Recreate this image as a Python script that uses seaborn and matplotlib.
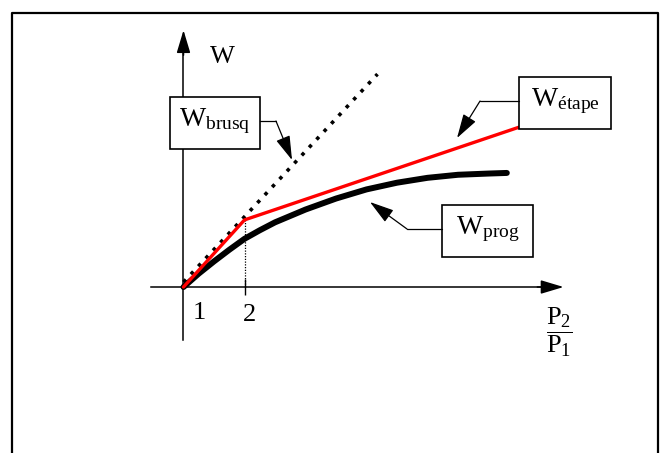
import matplotlib
matplotlib.use("Agg")
import matplotlib.pyplot as plt
import matplotlib.patches as mpatches
import seaborn as sns

# --- data (x = P2/P1, y = W, arbitrary units) ---
p_brusq = [1.0, 4.18]
w_brusq = [0.08, 3.49]

p_etape = [1.0, 2.0, 6.5]
w_etape = [0.0, 1.10, 2.62]

p_prog = [1.0, 1.25, 1.5, 1.75, 2.0, 2.25, 2.5, 3.0, 3.5, 4.0, 4.5, 5.0, 5.5, 6.0, 6.3]
w_prog = [0.00, 0.22, 0.42, 0.61, 0.79, 0.93, 1.06, 1.27, 1.45, 1.60, 1.71, 1.79, 1.84, 1.86, 1.87]

tick_labels = ["1", "2"]

sns.set_theme(style="white")
plt.rcParams["font.family"] = ["Liberation Serif", "DejaVu Serif"]
plt.rcParams["text.color"] = "black"
plt.rcParams["mathtext.fontset"] = "custom"
plt.rcParams["mathtext.rm"] = "Liberation Serif"
plt.rcParams["mathtext.it"] = "Liberation Serif:italic"

fig = plt.figure(figsize=(6.65, 4.53), dpi=100)
ax = fig.add_axes([0, 0, 1, 1])
ax.set_xlim(-2.008, 8.893)
ax.set_ylim(-2.721, 4.705)
ax.set_facecolor("white")

# axes through the origin, drawn with the spines
for side in ["top", "right"]:
    ax.spines[side].set_visible(False)
ax.spines["bottom"].set_position(("data", 0))
ax.spines["left"].set_position(("data", 1))
ax.spines["bottom"].set_bounds(0.46, 7.1)
ax.spines["left"].set_bounds(-0.87, 4.1)
for side in ["bottom", "left"]:
    ax.spines[side].set_color("black")
    ax.spines[side].set_linewidth(1.1)
    ax.spines[side].set_zorder(1)

ax.set_xticks([2], [""])
ax.set_yticks([])
ax.tick_params(axis="x", direction="inout", length=11, width=1.0, color="black", bottom=True)

head = dict(arrowstyle="-|>,head_length=1.4,head_width=0.42", color="black",
            lw=1.1, shrinkA=0, shrinkB=0, mutation_scale=10)
ax.annotate("", xy=(7.23, 0), xytext=(6.8, 0), arrowprops=head)
ax.annotate("", xy=(1, 4.21), xytext=(1, 3.8), arrowprops=head)

# curves
sns.lineplot(x=p_prog, y=w_prog, ax=ax, color="black", linewidth=4.3,
             sort=False, estimator=None, zorder=3, solid_joinstyle="round")
sns.lineplot(x=p_etape, y=w_etape, ax=ax, color="#ff0000", linewidth=2.4,
             sort=False, estimator=None, zorder=4)
sns.lineplot(x=p_brusq, y=w_brusq, ax=ax, color="black", linewidth=2.6,
             linestyle=(0, (1, 2.0)), sort=False, estimator=None, zorder=2)
ax.vlines(p_etape[1], 0, w_etape[1], colors="black", linewidth=0.9,
          linestyles=(0, (1, 1.2)), zorder=1)

# axis labels
ax.text(1.63, 3.77, "W", fontsize=19, ha="center", va="center")
ax.text(1.254, -0.43, tick_labels[0], fontsize=19, ha="center", va="center")
ax.text(2.09, -0.46, tick_labels[1], fontsize=19, ha="center", va="center")
ax.text(7.16, -0.75, r"$\dfrac{\mathrm{P}_2}{\mathrm{P}_1}$", fontsize=19,
        ha="center", va="center")

# callout boxes: (x0, y0, x1, y1), label, elbow, arrow tip
callouts = [
    ((0.779, 2.262, 2.254, 3.115), r"$\mathrm{W}_{\mathrm{brusq}}$",
     (2.254, 2.721), (2.516, 2.721), (2.779, 2.082)),
    ((6.500, 2.590, 8.008, 3.443), r"$\mathrm{W}_{\mathrm{étape}}$",
     (6.500, 3.049), (5.861, 3.049), (5.484, 2.443)),
    ((5.238, 0.492, 6.730, 1.344), r"$\mathrm{W}_{\mathrm{prog}}$",
     (5.238, 0.951), (4.664, 0.951), (4.057, 1.393)),
]
for (x0, y0, x1, y1), label, start, elbow, tip in callouts:
    ax.add_patch(mpatches.Rectangle((x0, y0), x1 - x0, y1 - y0, facecolor="white",
                                    edgecolor="black", linewidth=1.2, zorder=5))
    ax.text((x0 + x1) / 2, (y0 + y1) / 2 + 0.03, label, fontsize=20,
            ha="center", va="center", zorder=6)
    ax.plot([start[0], elbow[0]], [start[1], elbow[1]], color="black", lw=0.9, zorder=5)
    ax.annotate("", xy=tip, xytext=elbow,
                arrowprops=dict(arrowstyle="-|>,head_length=1.5,head_width=0.45",
                                color="black", lw=0.9, shrinkA=0, shrinkB=0,
                                mutation_scale=10), zorder=5)

# outer frame (open at the bottom)
ax.plot([0.018, 0.018, 0.9895, 0.9895], [-0.05, 0.9713, 0.9713, -0.05],
        transform=ax.transAxes, color="black", lw=1.6, clip_on=False)

fig.savefig("out.png", dpi=100, facecolor="white")
